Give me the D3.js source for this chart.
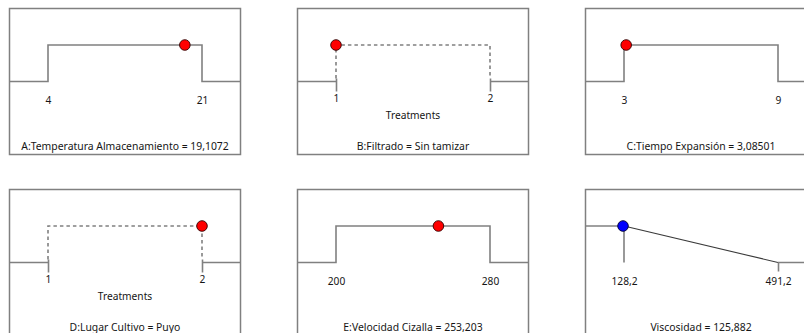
<!DOCTYPE html>
<html>
<head>
<meta charset="utf-8">
<script src="https://cdn.jsdelivr.net/npm/d3@7"></script>
<style>
  html, body { margin: 0; padding: 0; background: #fff; overflow: hidden; }
  svg { display: block; font-family: "Noto Sans", "Open Sans", sans-serif; }
</style>
</head>
<body>
<svg id="chart" width="804" height="333"></svg>
<script>
// Desirability ramps for each factor and the response
const panelNames   = ["A:Temperatura Almacenamiento", "B:Filtrado", "C:Tiempo Expansión",
                      "D:Lugar Cultivo", "E:Velocidad Cizalla", "Viscosidad"];
const goalKinds    = ["range", "categoric", "range", "categoric", "range", "minimize"];
const lowLimits    = [4, 1, 3, 1, 200, 128.2];
const highLimits   = [21, 2, 9, 2, 280, 491.2];
const currentValues = [19.1072, 1, 3.08501, 2, 253.203, 125.882];
const levelNames   = [null, ["Sin tamizar", ""], null, ["", "Puyo"], null, null];
const desirability = [1, 1, 1, 1, 1, 1];
const tickLabels   = [["4", "21"], ["1", "2"], ["3", "9"], ["1", "2"], ["200", "280"], ["128,2", "491,2"]];

const esLocale = d3.formatLocale({ decimal: ",", thousands: ".", grouping: [3], currency: ["", " €"] });
const fmt = esLocale.format(".6~g");

const svg = d3.select("#chart");
const boxW = 231, boxH = 146;
const colStep = 288, rowStep = 181;
const originX = 9.5, originY = 8.5;
const lineGray = "#808080";
const textColor = "#151515";

panelNames.forEach((name, i) => {
  const col = i % 3, row = Math.floor(i / 3);
  const x0 = originX + col * colStep, y0 = originY + row * rowStep;
  const lo = lowLimits[i], hi = highLimits[i];
  const kind = goalKinds[i];

  const x = d3.scaleLinear().domain([lo, hi]).range([x0 + boxW / 6, x0 + boxW * 5 / 6]);
  const y = d3.scaleLinear().domain([0, 1]).range([y0 + boxH * 0.5, y0 + boxH * 0.25]);
  const left = x.invert(x0), right = x.invert(x0 + boxW);

  const g = svg.append("g");
  g.append("rect")
    .attr("x", x0).attr("y", y0).attr("width", boxW).attr("height", boxH)
    .attr("fill", "none").attr("stroke", lineGray).attr("stroke-width", 1.5);

  const line = d3.line().x(d => x(d[0])).y(d => y(d[1]));
  const solid = (pts, color, w) => g.append("path").datum(pts).attr("d", line)
      .attr("fill", "none").attr("stroke", color || lineGray).attr("stroke-width", w || 1.6);

  if (kind === "range") {
    solid([[left, 0], [lo, 0], [lo, 1], [hi, 1], [hi, 0], [right, 0]]);
  } else if (kind === "categoric") {
    solid([[left, 0], [lo, 0]]);
    solid([[hi, 0], [right, 0]]);
    g.append("path").datum([[lo, 0.08], [lo, 1], [hi, 1], [hi, 0.08]]).attr("d", line)
      .attr("fill", "none").attr("stroke", lineGray).attr("stroke-width", 1.6)
      .attr("stroke-dasharray", "3.5,3");
  } else if (kind === "minimize") {
    solid([[left, 1], [lo, 1]]);
    solid([[lo, 1], [lo, 0]]);
    solid([[lo, 1], [hi, 0]], "#3a3a3a", 1.1);
    solid([[hi, 0], [right, 0]]);
  }

  // Axis: tick labels at the limits
  const tickSize = kind === "categoric" ? 13 : (kind === "minimize" ? 9 : 0);
  const axisY = kind === "categoric" ? y(0) - 3 : y(0);
  const axis = d3.axisBottom(x).tickValues([lo, hi])
    .tickFormat((d, k) => tickLabels[i][k])
    .tickSize(tickSize).tickPadding(kind === "categoric" ? 3 : (kind === "minimize" ? 6 : 15));
  const ag = g.append("g").attr("transform", `translate(0,${axisY})`).call(axis);
  ag.select(".domain").remove();
  ag.selectAll(".tick line").attr("stroke", lineGray).attr("stroke-width", 1.6);
  if (kind === "minimize") ag.selectAll(".tick line").filter((d, k) => k === 0).remove();
  ag.selectAll(".tick text").attr("fill", textColor).attr("font-size", 10.2)
    .style("font-family", "'Noto Sans', 'Open Sans', sans-serif");

  if (kind === "categoric") {
    g.append("text").attr("x", x0 + boxW / 2).attr("y", y0 + 110.5)
      .attr("text-anchor", "middle").attr("font-size", 10.2).attr("fill", textColor)
      .text("Treatments");
  }

  // Current setting marker
  const valueText = levelNames[i] ? levelNames[i][currentValues[i] - 1] : fmt(currentValues[i]);
  g.append("circle")
    .attr("cx", x(currentValues[i])).attr("cy", y(desirability[i])).attr("r", 5.3)
    .attr("fill", kind === "minimize" ? "#0000ff" : "#ff0000")
    .attr("stroke", kind === "minimize" ? "#000033" : "#330000").attr("stroke-width", 0.9);

  g.append("text").attr("x", x0 + boxW / 2).attr("y", y0 + 141.5)
    .attr("text-anchor", "middle").attr("font-size", 10.4).attr("fill", textColor)
    .text(`${name} = ${valueText}`);
});
</script>
</body>
</html>
